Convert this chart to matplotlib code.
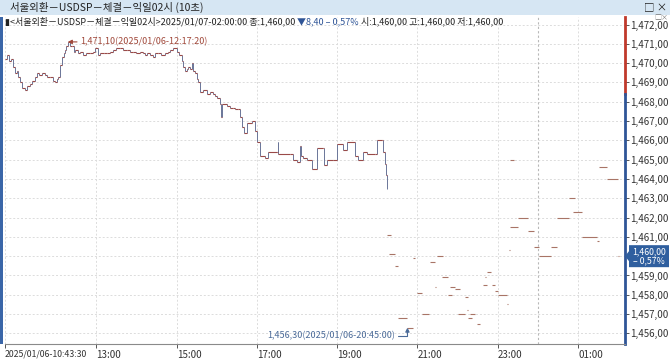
import matplotlib.pyplot as plt
from matplotlib.patches import Rectangle, Polygon
import numpy as np

plt.rcParams['font.family'] = ['Noto Sans CJK KR', 'DejaVu Sans']

# 연속 구간 (10:43:30 ~ 20:14)
dense_time = ['10:43:30', '10:46', '10:49', '10:52', '10:55', '10:58', '11:01', '11:03', '11:06', '11:09',
              '11:13', '11:17', '11:21', '11:24', '11:28', '11:31', '11:35', '11:39', '11:43', '11:47',
              '11:51', '11:55', '11:58', '12:01', '12:03', '12:06', '12:09', '12:11', '12:13', '12:15',
              '12:17:20', '12:20', '12:24', '12:26', '12:28', '12:32', '12:36', '12:40', '12:45', '12:51',
              '12:55', '12:58', '13:02', '13:06', '13:12', '13:16', '13:20', '13:25', '13:30', '13:35',
              '13:40', '13:46', '13:50', '13:55', '14:00', '14:05', '14:10', '14:13', '14:16', '14:20',
              '14:25', '14:28', '14:32', '14:37', '14:43', '14:47', '14:50', '14:55', '15:00', '15:04',
              '15:08', '15:10', '15:12', '15:15', '15:17', '15:20', '15:23', '15:25', '15:27', '15:30',
              '15:32', '15:35', '15:40', '15:45', '15:50', '15:54', '15:57', '16:00', '16:05', '16:06',
              '16:08', '16:15', '16:20', '16:24', '16:28', '16:32', '16:35', '16:38', '16:40', '16:45',
              '16:53', '16:57', '17:00', '17:05', '17:12', '17:16', '17:30', '17:31', '17:32', '17:49',
              '17:54', '18:00', '18:04', '18:06', '18:09', '18:15', '18:22', '18:30', '18:39', '18:41',
              '18:45', '18:54', '19:00', '19:08', '19:14', '19:26', '19:27', '19:31', '19:38', '19:44',
              '19:56', '19:59', '20:07', '20:09', '20:11', '20:13', '20:14']
dense_price = [1470.2, 1470.4, 1470.1, 1470.2, 1469.8, 1469.5, 1469.6, 1469.3, 1469.0, 1468.7,
               1468.6, 1468.8, 1468.9, 1469.1, 1469.3, 1469.5, 1469.4, 1469.5, 1469.4, 1469.3,
               1469.3, 1469.1, 1469.0, 1469.2, 1469.3, 1469.9, 1470.3, 1470.5, 1470.7, 1470.9,
               1471.1, 1470.9, 1470.9, 1470.6, 1470.7, 1470.5, 1470.6, 1470.4, 1470.5, 1470.5,
               1470.6, 1470.8, 1470.4, 1470.5, 1470.5, 1470.5, 1470.6, 1470.7, 1470.8, 1470.8,
               1470.7, 1470.7, 1470.6, 1470.6, 1470.5, 1470.6, 1470.5, 1470.4, 1470.5, 1470.4,
               1470.3, 1470.5, 1470.5, 1470.4, 1470.5, 1470.6, 1470.7, 1470.8, 1470.6, 1470.4,
               1470.1, 1469.8, 1469.6, 1469.7, 1469.8, 1469.7, 1470.0, 1469.6, 1469.5, 1469.2,
               1469.0, 1468.5, 1468.6, 1468.4, 1468.5, 1468.4, 1468.3, 1468.2, 1467.9, 1467.2,
               1467.9, 1467.8, 1467.7, 1467.7, 1467.6, 1467.6, 1467.2, 1466.7, 1466.4, 1466.9,
               1467.0, 1466.5, 1465.9, 1465.2, 1465.1, 1465.4, 1465.4, 1465.9, 1465.3, 1465.3,
               1465.0, 1464.9, 1465.7, 1465.2, 1465.1, 1465.0, 1464.5, 1465.6, 1465.6, 1464.7,
               1465.0, 1465.0, 1465.8, 1465.5, 1465.9, 1465.9, 1465.2, 1465.0, 1465.4, 1465.3,
               1465.3, 1466.0, 1466.0, 1465.4, 1464.8, 1464.2, 1463.5]

# 드문 체결 구간 (시작, 끝, 가격)
seg_start = ['20:15', '20:18', '20:26', '20:31', '20:45', '20:53', '20:59', '21:07', '21:18', '21:18',
             '21:26', '21:29', '21:37', '21:46', '21:49', '21:56', '22:00', '22:11', '22:14', '22:15',
             '22:18', '22:29', '22:33', '22:36', '22:36', '22:38', '22:41', '22:44', '22:51', '22:56',
             '23:00', '23:14', '23:17', '23:18', '23:18', '23:18', '23:30', '23:45', '23:54', '00:01',
             '00:19', '00:19', '00:29', '00:46', '00:53', '01:06', '01:28', '01:32', '01:43', '02:00']
seg_end = ['20:21', '20:26', '20:31', '20:44', '20:53', '20:56', '21:07', '21:17', '21:19', '21:26',
           '21:27', '21:38', '21:46', '21:52', '21:56', '22:03', '22:11', '22:15', '22:15', '22:21',
           '22:26', '22:33', '22:34', '22:37', '22:37', '22:44', '22:42', '22:50', '22:56', '23:00',
           '23:14', '23:15', '23:18', '23:30', '23:24', '23:19', '23:45', '23:54', '00:01', '00:19',
           '00:20', '00:29', '00:46', '00:55', '01:06', '01:28', '01:32', '01:43', '02:00', '02:01']
seg_price = [1461.1, 1460.1, 1459.5, 1456.8, 1456.3, 1459.9, 1458.1, 1457.0, 1457.5, 1459.7,
             1458.4, 1460.0, 1458.9, 1458.0, 1458.4, 1458.3, 1457.0, 1457.9, 1457.2, 1456.8,
             1457.0, 1456.5, 1457.0, 1457.8, 1457.4, 1458.5, 1458.9, 1459.2, 1458.5, 1458.2,
             1458.0, 1457.5, 1460.3, 1461.5, 1465.0, 1463.0, 1462.0, 1461.3, 1460.5, 1460.0,
             1461.0, 1460.5, 1462.0, 1463.0, 1462.3, 1461.0, 1460.8, 1464.6, 1464.0, 1460.0]

prev_close = 1468.4
max_time, max_price = '12:17:20', 1471.1
min_time, min_price = '20:45', 1456.3
y_ticks = list(range(1456, 1473))
x_ticks = ['10:43:30', '13:00', '15:00', '17:00', '19:00', '21:00', '23:00', '01:00']
x_labels = ['2025/01/06-10:43:30', '13:00', '15:00', '17:00', '19:00', '21:00', '23:00', '01:00']


def hrs(s):
    parts = [int(v) for v in s.split(':')]
    while len(parts) < 3:
        parts.append(0)
    h = parts[0] + parts[1] / 60 + parts[2] / 3600
    if h < 10:
        h += 24
    return h


def fmt(v):
    return f'{int(v):,},{int(round((v - int(v)) * 100)):02d}'


W, H = 670, 359
fig = plt.figure(figsize=(W / 100, H / 100), dpi=100)
ax = fig.add_axes([5 / W, 15 / H, 620 / W, 327 / H])
ax.set_xlim(10.725, 26.17)
ax.set_ylim(1455.45, 1472.39)

last = seg_price[-1]

# grid
ax.set_yticks(y_ticks)
ax.set_yticklabels(['' if v == round(last) else fmt(v) for v in y_ticks])
xt = [hrs(s) for s in x_ticks]
ax.set_xticks(xt)
ax.set_xticklabels(x_labels)
ax.grid(True, color='#dcdcdc', linestyle=(0, (2, 2)), linewidth=0.7)
ax.axvline(24, color='#b8b8b8', linestyle=(0, (2, 2)), linewidth=0.8)

# 가격선
t = np.array([hrs(s) for s in dense_time])
p = np.array(dense_price)
ax.vlines(t[1:], p[:-1], p[1:], color='#6a7598', linewidth=0.7)
ax.hlines(p[:-1], t[:-1], t[1:], color='#9a4a48', linewidth=0.8)

ts = np.array([hrs(s) for s in seg_start])
te = np.array([hrs(s) for s in seg_end])
ax.hlines(seg_price, ts, te, color='#a87466', linewidth=0.8)

# 최고/최저 표시
ax.annotate('1,471,10(2025/01/06-12:17:20)', xy=(hrs(max_time), max_price),
            xytext=(12, 0), textcoords='offset pixels', ha='left', va='center',
            fontsize=6.5, color='#a0483a',
            arrowprops=dict(arrowstyle='-|>', color='#a0483a', lw=0.8,
                            mutation_scale=6, shrinkA=0, shrinkB=0))
ax.annotate('1,456,30(2025/01/06-20:45:00)', xy=(hrs(min_time), min_price),
            xytext=(-12, -8), textcoords='offset pixels', ha='right', va='center',
            fontsize=6.5, color='#4a6a98',
            arrowprops=dict(arrowstyle='-|>', color='#4a6a98', lw=0.8, mutation_scale=6,
                            shrinkA=0, shrinkB=0,
                            connectionstyle='angle,angleA=0,angleB=90,rad=0'))

# 축 스타일
for side in ['top', 'left', 'right']:
    ax.spines[side].set_visible(False)
ax.spines['bottom'].set_color('#8a8a8a')
ax.yaxis.tick_right()
ax.tick_params(axis='y', length=3, width=0.7, color='#555555', labelsize=7,
               labelcolor='#333333', pad=1)
ax.tick_params(axis='x', length=3, width=0.7, color='#555555', labelsize=7,
               labelcolor='#333333', pad=1)
for lab in ax.get_xticklabels():
    lab.set_horizontalalignment('left')
ax.get_xticklabels()[0].set_fontsize(6.3)

ytr = ax.get_yaxis_transform()
ax.plot([1, 1], [prev_close, 1472.39], transform=ytr, color='#c0392b', lw=2, clip_on=False)
ax.plot([1, 1], [1455.45, prev_close], transform=ytr, color='#2f5597', lw=2, clip_on=False)

# 현재가 박스
yl = 15 + (last - 1455.45) / (1472.39 - 1455.45) * 327
box = Polygon([(625 / W, yl / H), (629 / W, (yl + 5) / H), (629 / W, (yl + 11) / H),
               (669 / W, (yl + 11) / H), (669 / W, (yl - 11) / H), (629 / W, (yl - 11) / H),
               (629 / W, (yl - 5) / H)], closed=True, transform=fig.transFigure,
              facecolor='#2f5f9f', edgecolor='none', zorder=5)
fig.patches.append(box)
fig.text(649 / W, (yl + 4.5) / H, fmt(last), color='white', fontsize=6.3, ha='center',
         va='center', zorder=6)
fig.text(649 / W, (yl - 5) / H, '– 0,57%', color='white', fontsize=6.3, ha='center',
         va='center', zorder=6)

# 창 머리
fig.patches.append(Rectangle((0, 1 - 15 / H), 1, 15 / H, transform=fig.transFigure,
                             facecolor='#d6e6f3', edgecolor='none'))
fig.patches.append(Rectangle((0, 15 / H), 2.5 / W, 327 / H, transform=fig.transFigure,
                             facecolor='#3a66a8', edgecolor='none'))
fig.text(10 / W, 1 - 7.5 / H, '서울외환－USDSP－체결－익일02시 (10초)', fontsize=7.5,
         color='#222222', va='center')
fig.text(644 / W, 1 - 7.5 / H, '□ ×', fontsize=7.5, color='#222222', va='center')
fig.text(654 / W, 1 - 18 / H, '□×', fontsize=5, color='#777777', va='center')

t1 = fig.text(5 / W, 1 - 24 / H, '▮<서울외환－USDSP－체결－익일02시>2025/01/07-02:00:00 종:1,460,00 ',
              fontsize=6.5, color='#222222', va='baseline')
t2 = ax.annotate('▼8,40 – 0,57%', xy=(1, 0), xycoords=t1, fontsize=6.5, color='#2f5597',
                 va='bottom', ha='left')
ax.annotate(' 시:1,460,00 고:1,460,00 저:1,460,00', xy=(1, 0), xycoords=t2, fontsize=6.5,
            color='#222222', va='bottom', ha='left')

fig.savefig('out.png', dpi=100)
